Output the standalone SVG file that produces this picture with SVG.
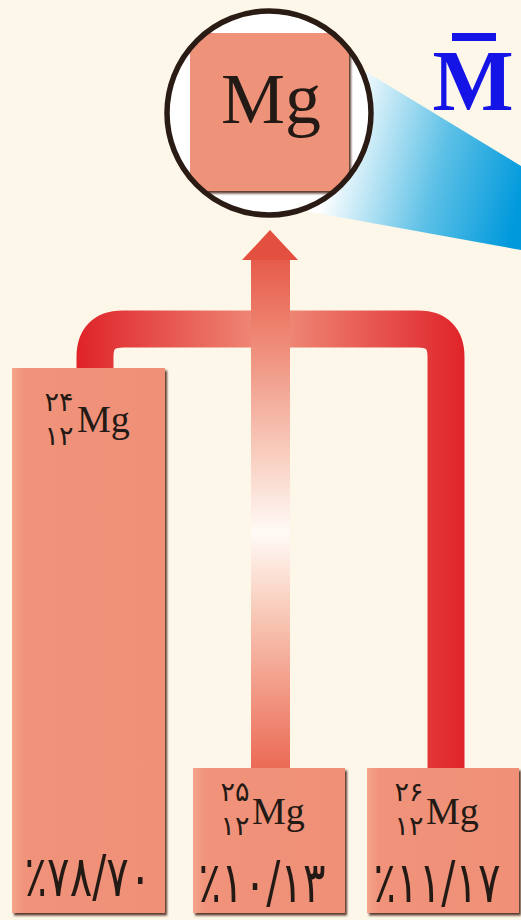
<svg xmlns="http://www.w3.org/2000/svg" width="521" height="920" viewBox="0 0 521 920">
<style>
.box{fill:url(#boxg);filter:url(#sh)}
.mg{font-family:"Liberation Serif","DejaVu Serif",serif;fill:#231a15}
.fa{font-family:"DejaVu Sans","Noto Sans",sans-serif;fill:#231a15;direction:ltr;unicode-bidi:bidi-override}
.sup{font-size:27px}
.pc{font-size:42px;letter-spacing:1px}
</style>
<defs>
<filter id="sh" x="-10%" y="-10%" width="130%" height="130%">
<feDropShadow dx="2" dy="2.5" stdDeviation="1.2" flood-color="#4a2418" flood-opacity="0.9"/>
</filter>
<clipPath id="cc"><circle cx="269" cy="113" r="101"/></clipPath>
<linearGradient id="boxg" x1="0" y1="0" x2="1" y2="0">
<stop offset="0" stop-color="#f4a58c"/>
<stop offset="0.08" stop-color="#f0937a"/>
<stop offset="1" stop-color="#ef9077"/>
</linearGradient>
<linearGradient id="beam" gradientUnits="userSpaceOnUse" x1="335" y1="150" x2="521" y2="200">
<stop offset="0" stop-color="#ffffff"/>
<stop offset="0.55" stop-color="#5cc0e6"/>
<stop offset="1" stop-color="#0099dc"/>
</linearGradient>
<linearGradient id="bar" gradientUnits="userSpaceOnUse" x1="77" y1="0" x2="465" y2="0">
<stop offset="0" stop-color="#df2329"/>
<stop offset="0.5" stop-color="#f0907c"/>
<stop offset="1" stop-color="#df2329"/>
</linearGradient>
<linearGradient id="shaft" gradientUnits="userSpaceOnUse" x1="0" y1="258" x2="0" y2="768">
<stop offset="0" stop-color="#e65a4a"/>
<stop offset="0.15" stop-color="#ee8672"/>
<stop offset="0.4" stop-color="#f9d2c4"/>
<stop offset="0.54" stop-color="#fffaf6"/>
<stop offset="0.7" stop-color="#f8c8b6"/>
<stop offset="1" stop-color="#eb6a55"/>
</linearGradient>
</defs>
<rect width="521" height="920" fill="#fdf7e9"/>

<g id="beam-cone">
<polygon points="350,62 521,166 521,250 300,210" fill="url(#beam)"/>
</g>

<g id="connectors">
<path d="M95,370 V357 Q95,329 123,329 H418 Q446,329 446,357 V770" fill="none" stroke="url(#bar)" stroke-width="37"/>
<rect x="251" y="258" width="39" height="512" fill="url(#shaft)"/>
<polygon points="270,230 298,260 242,260" fill="#e4503f"/>
</g>

<g id="mean-mg">
<circle cx="269" cy="113" r="102" fill="#ffffff"/>
<rect x="190" y="33" width="159" height="158" fill="#ef927a" filter="url(#sh)" clip-path="url(#cc)"/>
<circle cx="269" cy="113" r="102" fill="none" stroke="#2a1c14" stroke-width="5.5"/>
<text class="mg" x="271" y="123" font-size="72" text-anchor="middle">Mg</text>
</g>

<g id="mbar">
<rect x="452" y="33" width="44" height="8" fill="#1414e6"/>
<text x="473" y="110" font-family="'Liberation Serif',serif" font-weight="bold" font-size="86" fill="#1414e6" text-anchor="middle">M</text>
</g>

<g id="mg24">
<rect class="box" x="12" y="368" width="153" height="545"/>
<text class="fa sup" x="59" y="411" text-anchor="middle">۲۴</text>
<text class="fa sup" x="59" y="445" text-anchor="middle">۱۲</text>
<text class="mg" x="77" y="432" font-size="38">Mg</text>
<text class="fa pc" transform="translate(88,896) scale(1,1.35)" text-anchor="middle">٪۷۸/۷۰</text>
</g>

<g id="mg25">
<rect class="box" x="193" y="768" width="152" height="145"/>
<text class="fa sup" x="235" y="801" text-anchor="middle">۲۵</text>
<text class="fa sup" x="235" y="835" text-anchor="middle">۱۲</text>
<text class="mg" x="252" y="824" font-size="38">Mg</text>
<text class="fa pc" transform="translate(262,902) scale(1,1.35)" text-anchor="middle">٪۱۰/۱۳</text>
</g>

<g id="mg26">
<rect class="box" x="367" y="768" width="152" height="145"/>
<text class="fa sup" x="409" y="801" text-anchor="middle">۲۶</text>
<text class="fa sup" x="409" y="835" text-anchor="middle">۱۲</text>
<text class="mg" x="426" y="824" font-size="38">Mg</text>
<text class="fa pc" transform="translate(437,902) scale(1,1.35)" text-anchor="middle">٪۱۱/۱۷</text>
</g>
</svg>
